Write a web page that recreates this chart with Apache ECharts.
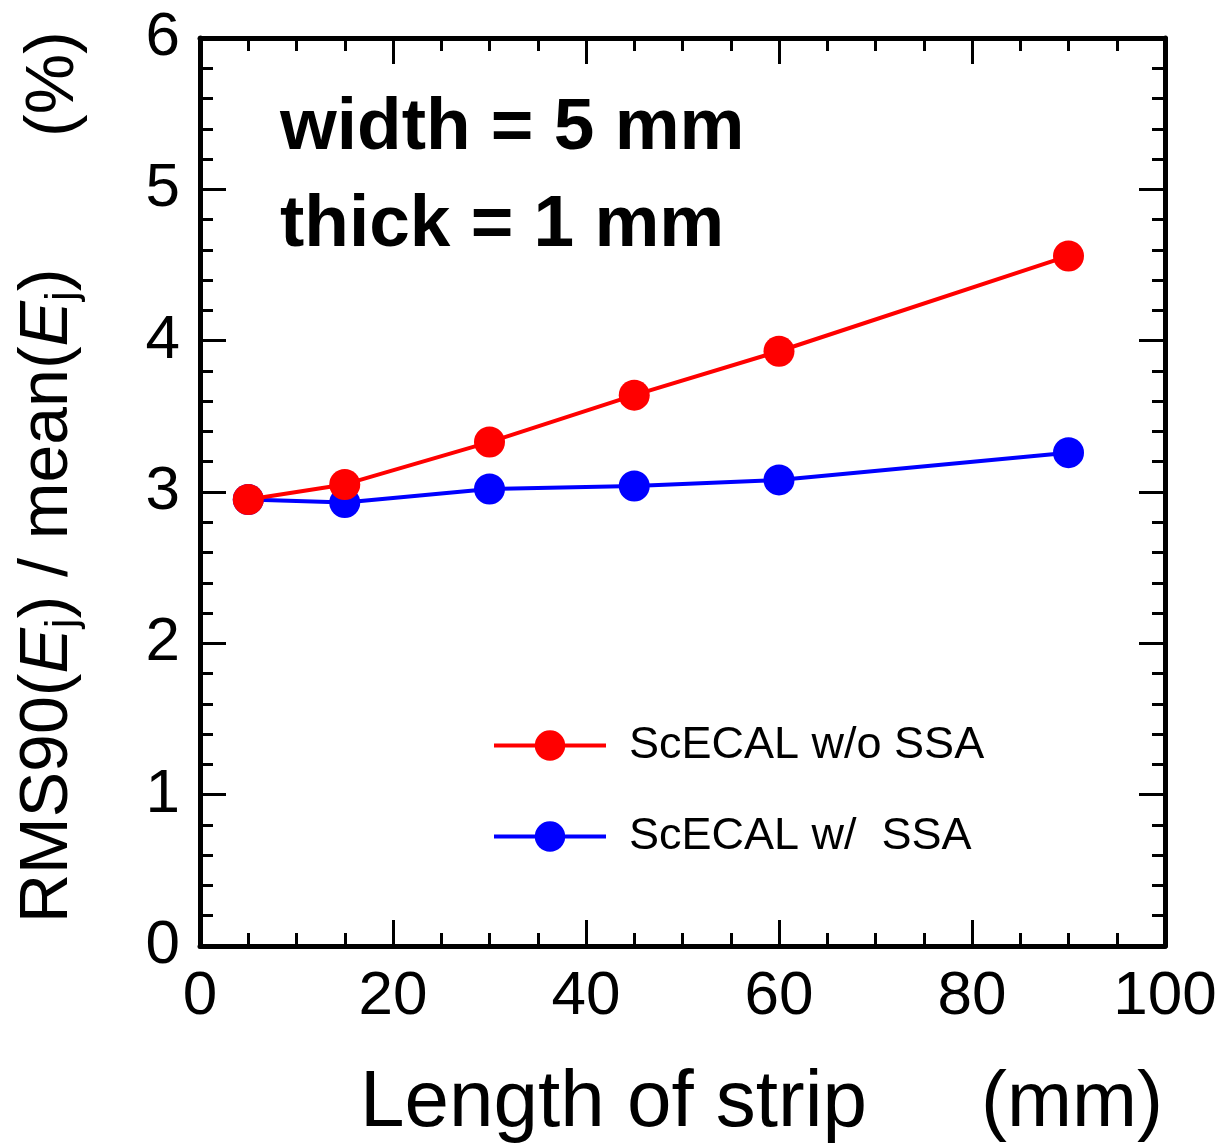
<!DOCTYPE html>
<html>
<head>
<meta charset="utf-8">
<title>strip length</title>
<script type="text/javascript" src="https://cdn.jsdelivr.net/npm/echarts@6/dist/echarts.min.js"></script>
<style>
html, body { margin: 0; padding: 0; background: #fff; }
#container { width: 1225px; height: 1146px; }
</style>
</head>
<body>
<div id="container"></div>
<script type="text/javascript">
// strip length (mm)
var lengths = [5, 15, 30, 45, 60, 90];
// RMS90(Ej)/mean(Ej) in %
var rmsNoSSA = [2.95, 3.05, 3.33, 3.64, 3.93, 4.56];
var rmsSSA = [2.95, 2.93, 3.02, 3.04, 3.08, 3.26];
var seriesNames = ['ScECAL w/o SSA', 'ScECAL w/  SSA'];
var xTicks = { min: 0, max: 100, step: 20 };
var yTicks = { min: 0, max: 6, step: 1 };

var font = 'Liberation Sans, Arial, Helvetica, sans-serif';

function pairs(xs, ys) {
	var out = [];
	for (var i = 0; i < xs.length; i++) out.push([xs[i], ys[i]]);
	return out;
}

function frameAxis(pos, range, split, showLabel) {
	return {
		type: 'value',
		position: pos,
		min: range.min,
		max: range.max,
		interval: range.step,
		axisLine: { show: true, onZero: false, lineStyle: { color: '#000', width: 5 } },
		axisTick: { show: true, inside: true, length: 26, lineStyle: { color: '#000', width: 3 } },
		minorTick: { show: true, splitNumber: split, length: 13, lineStyle: { color: '#000', width: 3 } },
		splitLine: { show: false },
		axisLabel: {
			show: showLabel,
			color: '#000',
			fontSize: 62,
			fontFamily: font,
			margin: 20,
			showMinLabel: true,
			showMaxLabel: true
		}
	};
}

var dom = document.getElementById('container');
var myChart = echarts.init(dom);

var option = {
	animation: false,
	backgroundColor: '#fff',
	grid: { left: 200, right: 60, top: 38, bottom: 200 },
	xAxis: [frameAxis('bottom', xTicks, 4, true), frameAxis('top', xTicks, 4, false)],
	yAxis: [frameAxis('left', yTicks, 5, true), frameAxis('right', yTicks, 5, false)],
	legend: {
		data: seriesNames,
		orient: 'vertical',
		left: 487,
		top: 718,
		itemWidth: 112,
		itemHeight: 38,
		itemGap: 46,
		lineStyle: { width: 4 },
		textStyle: { color: '#000', fontSize: 45, fontFamily: font, padding: [0, 0, 0, 18] }
	},
	series: [
		{
			name: seriesNames[1],
			type: 'line',
			data: pairs(lengths, rmsSSA),
			symbol: 'circle',
			symbolSize: 31,
			color: '#0000ff',
			lineStyle: { width: 4, color: '#0000ff' },
			itemStyle: { color: '#0000ff' },
			z: 2
		},
		{
			name: seriesNames[0],
			type: 'line',
			data: pairs(lengths, rmsNoSSA),
			symbol: 'circle',
			symbolSize: 31,
			color: '#ff0000',
			lineStyle: { width: 4, color: '#ff0000' },
			itemStyle: { color: '#ff0000' },
			z: 3
		}
	],
	graphic: [
		{
			type: 'text', left: 280, top: 92,
			style: { text: 'width = 5 mm', fill: '#000', fontSize: 73, fontWeight: 'bold', fontFamily: font }
		},
		{
			type: 'text', left: 280, top: 189,
			style: { text: 'thick = 1 mm', fill: '#000', fontSize: 73, fontWeight: 'bold', fontFamily: font }
		},
		{
			type: 'text', x: 360, y: 1104,
			style: { text: 'Length of strip', fill: '#000', fontSize: 80, fontFamily: font, align: 'left', verticalAlign: 'middle' }
		},
		{
			type: 'text', x: 1163, y: 1104,
			style: { text: '(mm)', fill: '#000', fontSize: 78, fontFamily: font, align: 'right', verticalAlign: 'middle' }
		},
		{
			type: 'text', x: 48, y: 923, rotation: Math.PI / 2,
			style: {
				text: '{n|RMS90(}{i|E}{s|j}{n|) / mean(}{i|E}{s|j}{n|)}',
				fill: '#000', align: 'left', verticalAlign: 'middle',
				rich: {
					n: { fontSize: 68, fontFamily: font, lineHeight: 76, fill: '#000' },
					i: { fontSize: 68, fontFamily: font, fontStyle: 'italic', lineHeight: 76, fill: '#000' },
					s: { fontSize: 44, fontFamily: font, lineHeight: 44, verticalAlign: 'bottom', fill: '#000' }
				}
			}
		},
		{
			type: 'text', x: 54, y: 137, rotation: Math.PI / 2,
			style: { text: '(%)', fill: '#000', fontSize: 68, fontFamily: font, align: 'left', verticalAlign: 'middle' }
		}
	]
};

myChart.setOption(option, true);
</script>
</body>
</html>
